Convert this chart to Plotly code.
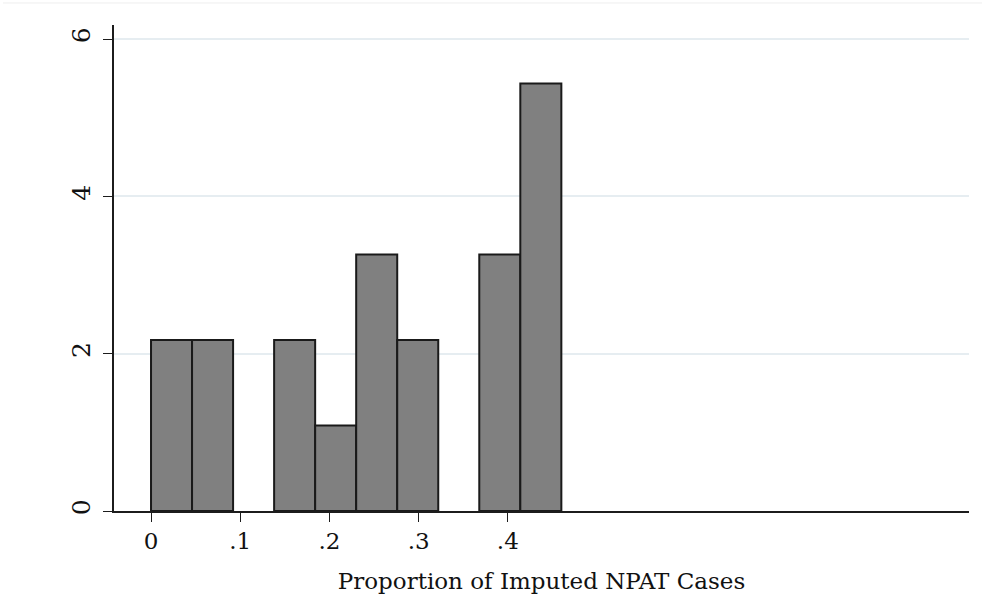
import plotly.graph_objects as go

# Histogram of the proportion of imputed NPAT cases (density scale)
bin_width = 0.046
bin_start = [0.000, 0.046, 0.092, 0.138, 0.184, 0.230, 0.276, 0.322, 0.368, 0.414]
density = [2.174, 2.174, 0.0, 2.174, 1.087, 3.261, 2.174, 0.0, 3.261, 5.435]

x_ticks = [0, 0.1, 0.2, 0.3, 0.4]
x_tick_text = ["0", ".1", ".2", ".3", ".4"]
y_ticks = [0, 2, 4, 6]
y_tick_text = ["0", "2", "4", "6"]
x_title = "Proportion of Imputed NPAT Cases"

# empty bins are not drawn
centers = [s + bin_width / 2 for s, d in zip(bin_start, density) if d > 0]
heights = [d for d in density if d > 0]

FONT = "DejaVu Serif"
AXIS_COLOR = "#1c1c1c"

fig = go.Figure(
    go.Bar(
        x=centers,
        y=heights,
        width=bin_width,
        marker=dict(color="#808080", line=dict(color="#1a1a1a", width=2)),
        hoverinfo="skip",
    )
)

fig.update_layout(
    width=982,
    height=615,
    margin=dict(l=114, r=13, t=25, b=104),
    paper_bgcolor="white",
    plot_bgcolor="white",
    showlegend=False,
    font=dict(family=FONT, color="#111111"),
    xaxis=dict(
        range=[-0.0415, 0.917],
        tickvals=x_ticks,
        ticktext=x_tick_text,
        ticks="outside",
        ticklen=9,
        tickwidth=1.2,
        tickcolor=AXIS_COLOR,
        tickfont=dict(size=23, family=FONT),
        showline=True,
        linecolor=AXIS_COLOR,
        linewidth=1.5,
        showgrid=False,
        zeroline=False,
        title=dict(text=x_title, font=dict(size=23, family=FONT), standoff=20),
    ),
    yaxis=dict(
        range=[0, 6.18],
        tickvals=y_ticks,
        ticktext=y_tick_text,
        tickangle=-90,
        ticks="outside",
        ticklen=9,
        tickwidth=1.2,
        tickcolor=AXIS_COLOR,
        tickfont=dict(size=25, family=FONT),
        ticklabelstandoff=3,
        showline=True,
        linecolor=AXIS_COLOR,
        linewidth=1.5,
        showgrid=True,
        gridcolor="#e6edf1",
        gridwidth=1.5,
        zeroline=False,
    ),
    shapes=[
        dict(
            type="line", xref="paper", yref="paper",
            x0=-0.1298, x1=1.0152, y0=1.0453, y1=1.0453,
            line=dict(color="#eeeeee", width=1),
        )
    ],
)

fig.write_html("out.html")
